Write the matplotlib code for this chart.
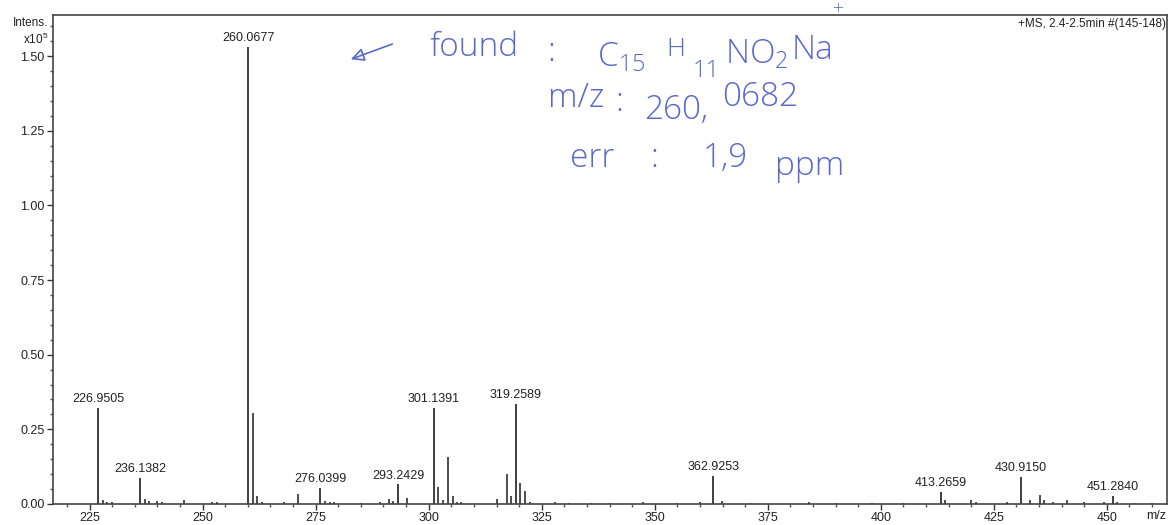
import matplotlib
matplotlib.use("Agg")
import matplotlib.pyplot as plt
from matplotlib.ticker import MultipleLocator, FixedLocator

plt.rcParams['font.family'] = ['Liberation Sans', 'DejaVu Sans']

# Labelled peaks (m/z, intensity x10^5)
label_mz = [226.9505, 236.1382, 260.0677, 276.0399, 293.2429, 301.1391,
            319.2589, 362.9253, 413.2659, 430.9150, 451.2840]
label_int = [0.322, 0.088, 1.531, 0.055, 0.066, 0.323,
             0.335, 0.094, 0.040, 0.092, 0.026]

# Other (unlabelled) peaks
other_mz = [227.95, 228.9, 229.9, 237.14, 238.1, 239.9, 241.0, 245.9, 252.0,
            253.1, 261.07, 262.07, 263.1, 268.0, 271.0, 277.0, 278.1, 279.0,
            285.0, 289.2, 291.2, 292.2, 295.2, 302.14, 303.1, 304.2, 305.3,
            306.2, 307.2, 315.2, 317.25, 318.2, 320.26, 321.3, 322.3, 328.0,
            331.0, 336.0, 340.0, 347.3, 355.0, 360.0, 364.9, 371.0, 384.2,
            390.0, 398.0, 405.0, 414.3, 420.0, 421.0, 428.0, 432.9, 435.2,
            436.2, 438.0, 441.1, 445.0, 449.3, 452.3, 456.0, 460.0]
other_int = [0.012, 0.008, 0.006, 0.016, 0.010, 0.009, 0.006, 0.015, 0.006,
             0.007, 0.306, 0.027, 0.006, 0.006, 0.033, 0.010, 0.008, 0.008,
             0.005, 0.008, 0.017, 0.010, 0.020, 0.057, 0.012, 0.158, 0.027,
             0.007, 0.006, 0.016, 0.100, 0.027, 0.071, 0.044, 0.008, 0.006,
             0.005, 0.005, 0.005, 0.008, 0.005, 0.006, 0.010, 0.005, 0.008,
             0.005, 0.005, 0.005, 0.012, 0.015, 0.008, 0.006, 0.012, 0.030,
             0.012, 0.008, 0.015, 0.006, 0.008, 0.006, 0.005, 0.005]

x_ticks = [225, 250, 275, 300, 325, 350, 375, 400, 425, 450]
y_ticks = [0.00, 0.25, 0.50, 0.75, 1.00, 1.25, 1.50]

# Handwritten note text pieces
note_texts = ["found", ":", r"$\mathregular{C_{15}}$", "H", "11",
              r"$\mathregular{NO_{2}}$", "Na", "+",
              "m/z", ":", "260,", "0682",
              "err", ":", "1,9", "ppm"]
# layout for each piece: (x axes-fraction, y axes-fraction, fontsize)
note_layout = [(0.338, 0.935, 24), (0.444, 0.925, 24), (0.488, 0.912, 24),
               (0.551, 0.930, 19), (0.574, 0.885, 17),
               (0.603, 0.918, 24), (0.663, 0.928, 24), (0.700, 1.012, 14),
               (0.444, 0.830, 24), (0.505, 0.822, 24), (0.531, 0.806, 24),
               (0.601, 0.832, 24),
               (0.464, 0.708, 24), (0.536, 0.708, 24), (0.583, 0.708, 24),
               (0.648, 0.692, 24)]

fig = plt.figure(figsize=(11.7, 5.25), dpi=100)
ax = fig.add_axes([0.0453, 0.04, 0.9521, 0.931])

line_color = '#1e1e1e'
ax.vlines(other_mz, 0, other_int, colors=line_color, linewidth=1.1)
ax.vlines(label_mz, 0, label_int, colors=line_color, linewidth=1.2)
for mz, it in zip(label_mz, label_int):
    ax.annotate(f"{mz:.4f}", (mz, it), xytext=(0, 2), textcoords='offset points',
                ha='center', va='bottom', fontsize=9, color='#222222')

ax.set_xlim(216.9, 463.3)
ax.set_ylim(0, 1.637)
ax.xaxis.set_major_locator(FixedLocator(x_ticks))
ax.xaxis.set_minor_locator(MultipleLocator(5))
ax.yaxis.set_major_locator(FixedLocator(y_ticks))
ax.yaxis.set_minor_locator(MultipleLocator(0.05))
ax.set_yticklabels([f"{v:.2f}" for v in y_ticks])
ax.tick_params(which='major', direction='out', length=4, width=1, labelsize=9,
               colors='#333333', pad=2)
ax.tick_params(which='minor', direction='out', length=2.5, width=1, colors='#555555')
ax.tick_params(axis='x', labelcolor='#222222')
ax.tick_params(axis='y', labelcolor='#222222')
for s in ax.spines.values():
    s.set_color('#444444')
    s.set_linewidth(1.2)

# header texts
ax.text(-0.004, 0.985, "Intens.", transform=ax.transAxes, ha='right', va='center',
        fontsize=8.5, color='#222222')
ax.text(-0.004, 0.95, r"$\mathregular{x10^5}$", transform=ax.transAxes, ha='right',
        va='center', fontsize=8.5, color='#222222')
ax.text(0.999, 0.995, "+MS, 2.4-2.5min #(145-148)", transform=ax.transAxes, ha='right',
        va='top', fontsize=8.5, color='#222222')
ax.text(0.999, -0.012, "m/z", transform=ax.transAxes, ha='right', va='top', fontsize=9,
        color='#222222')

# handwritten notes
pen = '#5a69c9'
ax.annotate("", xy=(0.265, 0.908), xytext=(0.307, 0.943), xycoords='axes fraction',
            arrowprops=dict(arrowstyle='-|>', color=pen, lw=1.2, mutation_scale=20,
                            fill=False))
for txt, (xf, yf, fs) in zip(note_texts, note_layout):
    ax.text(xf, yf, txt, transform=ax.transAxes, ha='left', va='center', fontsize=fs,
            color=pen, family=['Open Sans', 'DejaVu Sans'], fontweight='light')

fig.savefig("out.png", dpi=100)
